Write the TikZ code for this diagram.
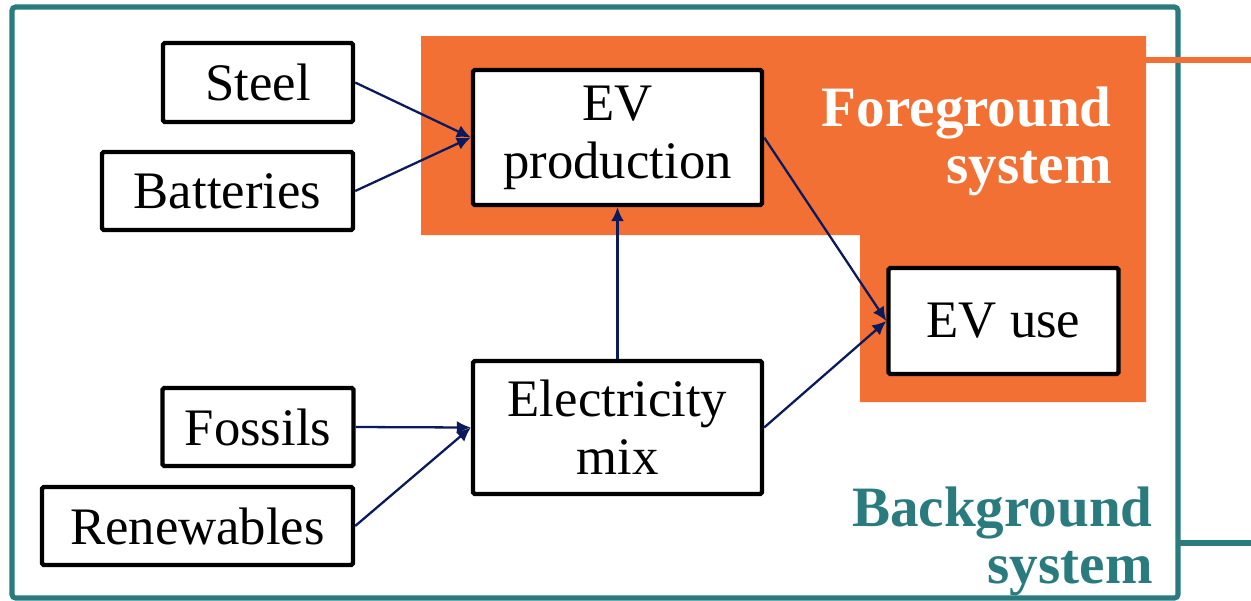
\documentclass[tikz,border=0pt]{standalone}
\usepackage{fontspec}
\setmainfont{Liberation Serif}
\usetikzlibrary{arrows.meta}
\definecolor{fgorange}{HTML}{F37034}
\definecolor{bgteal}{HTML}{2A7B7D}
\definecolor{arrnavy}{HTML}{0A1A5C}
\tikzset{
  procbox/.style={draw=black, line width=2.5pt, fill=white, rounded corners=1pt,
    inner sep=0pt, align=center, font=\fontsize{30}{33}\selectfont},
  flow/.style={draw=arrnavy, line width=1.3pt, -{Latex[length=0.28cm,width=0.26cm]}},
  syslabel/.style={font=\fontsize{32.5}{32.5}\selectfont\bfseries, align=right, inner sep=0pt, anchor=east}
}
\begin{document}
\begin{tikzpicture}[x=0.02cm,y=-0.02cm]
\useasboundingbox (0,0) rectangle (1251,600);
% background system frame
\draw[bgteal, line width=2.9pt, rounded corners=2pt] (12,7) rectangle (1178,598);
% foreground region
\fill[fgorange] (421,36) -- (1146,36) -- (1146,402) -- (860,402) -- (860,235) -- (421,235) -- cycle;
\coordinate (oL) at (1146,60);
\coordinate (oR) at (1251,60);
\draw[fgorange, line width=3.4pt] (oL) -- (oR);
\coordinate (tL) at (1178,543);
\coordinate (tR) at (1251,543);
\draw[bgteal, line width=3.4pt] (tL) -- (tR);
% labels
\node[syslabel, text=white] (fg) at (1112,141) {Foreground\\system};
\node[syslabel, text=bgteal] (bg) at (1153,541) {Background\\system};
% boxes
\node[procbox, minimum width=3.8cm, minimum height=1.58cm] (steel) at (258,82.5) {Steel};
\node[procbox, minimum width=5.02cm, minimum height=1.56cm] (batt) at (227.5,191) {Batteries};
\node[procbox, minimum width=5.78cm, minimum height=2.7cm, text depth=0.2cm] (evp) at (617.5,137.5) {EV\\production};
\node[procbox, minimum width=4.6cm, minimum height=2.12cm] (evu) at (1003.5,321) {EV use};
\node[procbox, minimum width=3.82cm, minimum height=1.56cm] (foss) at (258,427) {Fossils};
\node[procbox, minimum width=6.22cm, minimum height=1.56cm] (renew) at (197.5,526) {Renewables};
\node[procbox, minimum width=5.78cm, minimum height=2.66cm] (elec) at (617.5,427.5) {Electricity\\mix};
% flows
\draw[flow] (steel.east) -- (evp.west);
\draw[flow] (batt.east) -- (evp.west);
\draw[flow] (foss.east) -- (elec.west);
\draw[flow] (renew.east) -- (elec.west);
\draw[flow] (elec.north) -- (evp.south);
\draw[flow] (evp.east) -- (evu.west);
\draw[flow] (elec.east) -- (evu.west);
\end{tikzpicture}
\end{document}
